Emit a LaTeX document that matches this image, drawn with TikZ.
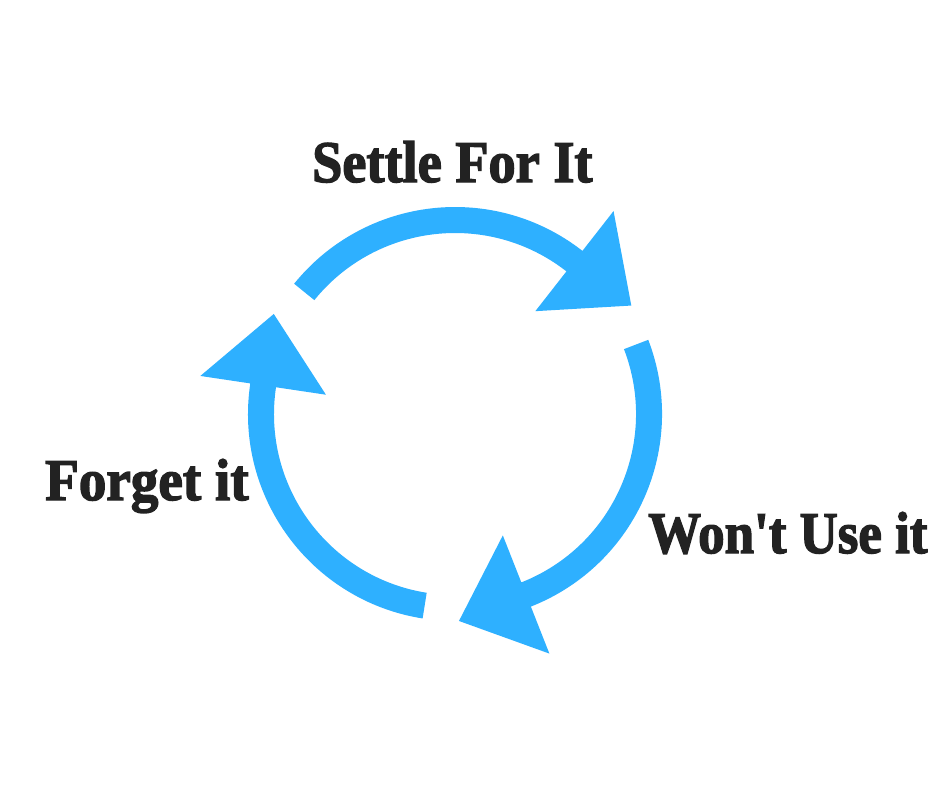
\documentclass[tikz,border=0pt]{standalone}
\usepackage{fontspec}
\newfontfamily\labelfont{Liberation Serif Bold}[FakeBold=2.4]
\definecolor{arrowblue}{RGB}{46,176,255}
\definecolor{labeltext}{RGB}{34,34,34}
\newcommand\cyclearrow[2]{%
  \fill[arrowblue] (#1:207) arc[start angle=#1, end angle=#2, radius=207]
    -- (#2:257.5) -- ({#2-20.4}:207) -- (#2:130.5) -- (#2:181)
    arc[start angle=#2, end angle=#1, radius=181] -- cycle;}
\begin{document}
\begin{tikzpicture}[x=1pt,y=1pt,
  lbl/.style={anchor=base west, inner sep=0pt, text=labeltext,
    font=\labelfont\fontsize{59}{59}\selectfont, xscale=0.92, transform shape}]
\useasboundingbox[fill=white] (0,0) rectangle (940,-788);
\begin{scope}[shift={(455,-414)}]
  \cyclearrow{141}{52}
  \cyclearrow{21}{-68.5}
  \cyclearrow{-99}{-188.5}
\end{scope}
\node[lbl] (settle) at (312,-182) {Settle For It};
\node[lbl, xscale=1.015] (forget) at (45,-500) {Forget it};
\node[lbl, xscale=0.975] (wont) at (648,-553) {Won't Use it};
\end{tikzpicture}
\end{document}
